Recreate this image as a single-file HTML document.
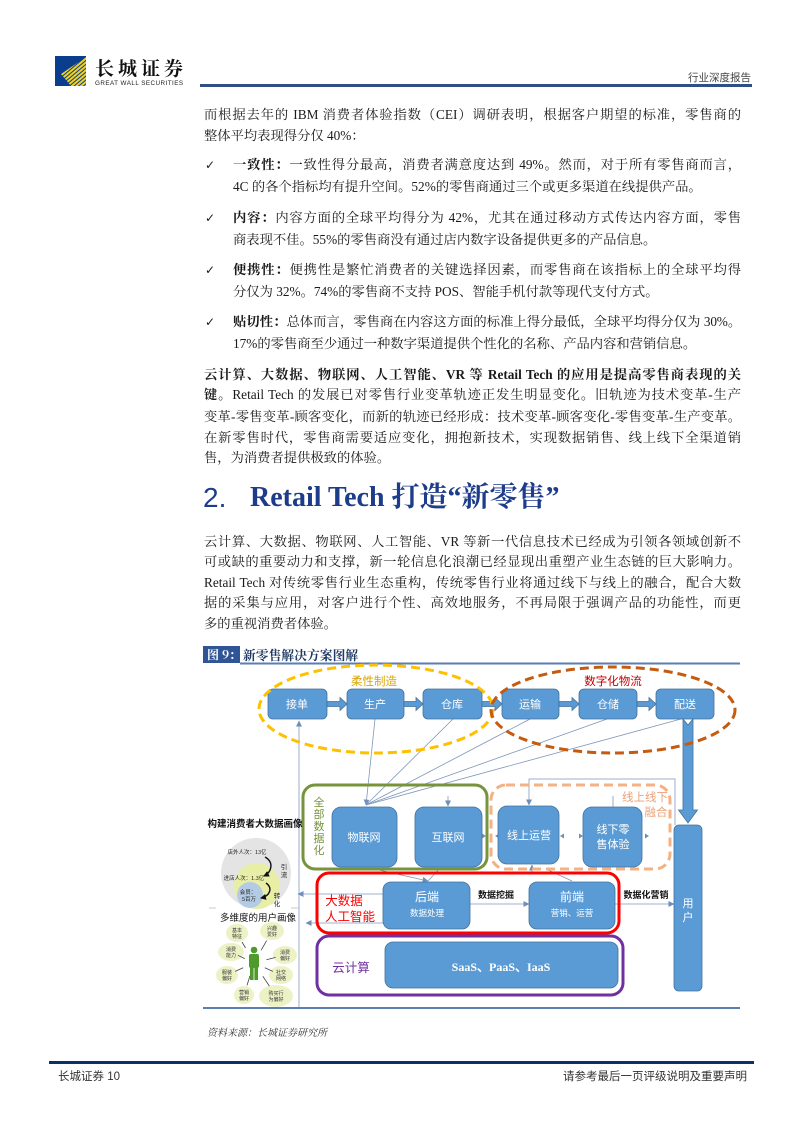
<!DOCTYPE html>
<html><head><meta charset="utf-8">
<style>
html,body{margin:0;padding:0;background:#fff;}
#pg{position:relative;width:794px;height:1123px;overflow:hidden;background:#fff;}
.t{position:absolute;left:204px;width:537px;font-family:"Liberation Serif","Noto Serif CJK SC",serif;font-size:13.3px;line-height:20px;color:#1a1a1a;}
.j{text-align:justify;text-align-last:justify;}
.b{font-weight:bold;}
.ind{left:233px;width:508px;}
.ck{position:absolute;left:205px;font-family:"DejaVu Sans",sans-serif;font-size:12px;line-height:20px;color:#1a1a1a;}
.h{position:absolute;top:480px;font-family:"Liberation Serif","Noto Serif CJK SC",serif;font-size:28px;line-height:36px;color:#1e3c8c;font-weight:bold;white-space:nowrap;}
</style></head>
<body><div id="pg">

<!-- header -->
<svg width="794" height="1123" style="position:absolute;left:0;top:0">
<defs>
<pattern id="st" width="3" height="3" patternUnits="userSpaceOnUse" patternTransform="rotate(-40)">
<rect width="3" height="2" fill="#f2d21a"/>
</pattern>
</defs>
<rect x="55" y="56" width="31" height="30" fill="#0b3d8e"/>
<polygon points="86,57 86,86 71,86 61,74" fill="url(#st)"/>
<text x="95" y="75" font-family="Noto Serif CJK SC, serif" font-weight="bold" font-size="19" letter-spacing="4" fill="#111">长城证券</text>
<text x="95" y="85" font-family="Liberation Sans, sans-serif" font-size="6.3" letter-spacing="0.45" fill="#222">GREAT WALL SECURITIES</text>
<rect x="200" y="84" width="552" height="3" fill="#2f4f86"/>
<text x="751" y="81" text-anchor="end" font-family="Noto Sans CJK SC, sans-serif" font-size="10.5" fill="#444">行业深度报告</text>

<!-- footer -->
<text x="207" y="1036" font-family="Noto Serif CJK SC, serif" font-style="italic" font-size="10" fill="#333">资料来源：长城证券研究所</text>
<rect x="49" y="1061" width="705" height="3" fill="#0d2f6e"/>
<text x="58" y="1080" font-family="Liberation Sans, Noto Sans CJK SC, sans-serif" font-size="11.5" fill="#333">长城证券 10</text>
<text x="747" y="1080" text-anchor="end" font-family="Noto Sans CJK SC, sans-serif" font-size="11.5" fill="#333">请参考最后一页评级说明及重要声明</text>
</svg>

<!-- body text -->
<div class="t j" style="top:105px">而根据去年的 IBM 消费者体验指数（CEI）调研表明，根据客户期望的标准，零售商的</div>
<div class="t" style="top:126px">整体平均表现得分仅 40%：</div>

<div class="ck" style="top:155px">✓</div>
<div class="t ind j" style="top:155px"><span class="b">一致性：</span>一致性得分最高，消费者满意度达到 49%。然而，对于所有零售商而言，</div>
<div class="t ind" style="top:177px">4C 的各个指标均有提升空间。52%的零售商通过三个或更多渠道在线提供产品。</div>

<div class="ck" style="top:208px">✓</div>
<div class="t ind j" style="top:208px"><span class="b">内容：</span>内容方面的全球平均得分为 42%，尤其在通过移动方式传达内容方面，零售</div>
<div class="t ind" style="top:230px">商表现不佳。55%的零售商没有通过店内数字设备提供更多的产品信息。</div>

<div class="ck" style="top:260px">✓</div>
<div class="t ind j" style="top:260px"><span class="b">便携性：</span>便携性是繁忙消费者的关键选择因素，而零售商在该指标上的全球平均得</div>
<div class="t ind" style="top:282px">分仅为 32%。74%的零售商不支持 POS、智能手机付款等现代支付方式。</div>

<div class="ck" style="top:312px">✓</div>
<div class="t ind j" style="top:312px;letter-spacing:-0.2px"><span class="b">贴切性：</span>总体而言，零售商在内容这方面的标准上得分最低，全球平均得分仅为 30%。</div>
<div class="t ind" style="top:334px">17%的零售商至少通过一种数字渠道提供个性化的名称、产品内容和营销信息。</div>

<div class="t j b" style="top:365px">云计算、大数据、物联网、人工智能、VR 等 Retail Tech 的应用是提高零售商表现的关</div>
<div class="t j" style="top:385px"><span class="b">键。</span>Retail Tech 的发展已对零售行业变革轨迹正发生明显变化。旧轨迹为技术变革-生产</div>
<div class="t j" style="top:407px;letter-spacing:-0.1px">变革-零售变革-顾客变化，而新的轨迹已经形成：技术变革-顾客变化-零售变革-生产变革。</div>
<div class="t j" style="top:428px">在新零售时代，零售商需要适应变化，拥抱新技术，实现数据销售、线上线下全渠道销</div>
<div class="t" style="top:448px">售，为消费者提供极致的体验。</div>

<div class="h" style="left:203px;font-family:'Liberation Sans',sans-serif;font-weight:normal">2.</div>
<div class="h" style="left:250px">Retail Tech 打造“新零售”</div>

<div class="t j" style="top:532px">云计算、大数据、物联网、人工智能、VR 等新一代信息技术已经成为引领各领域创新不</div>
<div class="t j" style="top:552px">可或缺的重要动力和支撑，新一轮信息化浪潮已经显现出重塑产业生态链的巨大影响力。</div>
<div class="t j" style="top:573px">Retail Tech 对传统零售行业生态重构，传统零售行业将通过线下与线上的融合，配合大数</div>
<div class="t j" style="top:593px">据的采集与应用，对客户进行个性、高效地服务，不再局限于强调产品的功能性，而更</div>
<div class="t" style="top:614px">多的重视消费者体验。</div>

<!-- diagram -->
<svg width="794" height="1123" style="position:absolute;left:0;top:0" font-family="Liberation Sans, Noto Sans CJK SC, sans-serif">
<defs>
<marker id="ah" markerWidth="6" markerHeight="6" refX="5.5" refY="3" orient="auto" markerUnits="userSpaceOnUse"><path d="M0,0 L6,3 L0,6 z" fill="#6f8fb8"/></marker>
<marker id="bk" markerWidth="6" markerHeight="6" refX="5" refY="3" orient="auto" markerUnits="userSpaceOnUse"><path d="M0,0 L6,3 L0,6 z" fill="#111"/></marker>
</defs>

<!-- caption -->
<rect x="203" y="646" width="37" height="17" fill="#2f5597"/>
<text x="207" y="659" font-family="Noto Serif CJK SC, serif" font-weight="bold" font-size="12" fill="#fff">图 9：</text>
<text x="243" y="660" font-family="Noto Serif CJK SC, serif" font-weight="bold" font-size="12.8" fill="#1f3864">新零售解决方案图解</text>
<line x1="240" y1="663.5" x2="740" y2="663.5" stroke="#5b7fb0" stroke-width="2"/>

<!-- thin connectors -->
<g stroke="#7f98bb" stroke-width="0.8" fill="none">
<line x1="375" y1="719" x2="366" y2="805" marker-end="url(#ah)"/>
<line x1="453" y1="719" x2="366" y2="805"/>
<line x1="530" y1="719" x2="366" y2="805"/>
<line x1="607" y1="719" x2="366" y2="805"/>
<line x1="681" y1="719" x2="366" y2="805"/>
<line x1="448" y1="796" x2="448" y2="806" marker-end="url(#ah)"/>
<path d="M675,825 V779 H529 V805" marker-end="url(#ah)"/>
<line x1="613" y1="796" x2="613" y2="807"/>
<line x1="370" y1="868" x2="428" y2="881" marker-end="url(#ah)"/>
<line x1="440" y1="868" x2="428" y2="881"/>
<line x1="546" y1="869" x2="572" y2="881"/>
<line x1="532" y1="872" x2="532" y2="865" marker-end="url(#ah)"/>
<path d="M299,1007 V721" marker-end="url(#ah)"/>
<line x1="383" y1="894" x2="298" y2="894" marker-end="url(#ah)"/>
<line x1="383" y1="923" x2="306" y2="923" marker-end="url(#ah)"/>
<line x1="470" y1="904" x2="529" y2="904" marker-end="url(#ah)"/>
<line x1="615" y1="904" x2="674" y2="904" marker-end="url(#ah)"/>
</g>
<g fill="#6f8fb8">
<path d="M560,836 l4,-2.5 v5z"/><path d="M583,836 l-4,-2.5 v5z"/>
<path d="M649,836 l-4,-2.5 v5z"/><path d="M486,836 l-4,-2.5 v5z"/>
<path d="M495,836 l4,-2.5 v5z"/>
</g>

<!-- top process boxes -->
<g fill="#5b9bd5" stroke="#41719c" stroke-width="0.8">
<rect x="268" y="689" width="59" height="30" rx="5"/>
<rect x="347" y="689" width="57" height="30" rx="5"/>
<rect x="423" y="689" width="59" height="30" rx="5"/>
<rect x="502" y="689" width="57" height="30" rx="5"/>
<rect x="579" y="689" width="58" height="30" rx="5"/>
<rect x="656" y="689" width="58" height="30" rx="5"/>
<!-- block arrows -->
<path d="M327,701.5 H340 V697.5 L347,704 L340,710.5 V706.5 H327 Z"/>
<path d="M404,701.5 H416 V697.5 L423,704 L416,710.5 V706.5 H404 Z"/>
<path d="M482,701.5 H495 V697.5 L502,704 L495,710.5 V706.5 H482 Z"/>
<path d="M559,701.5 H572 V697.5 L579,704 L572,710.5 V706.5 H559 Z"/>
<path d="M637,701.5 H649 V697.5 L656,704 L649,710.5 V706.5 H637 Z"/>
<!-- down arrow -->
<path d="M683,719 L688,725 L693,719 V810 H697.5 L688,823 L678.5,810 H683 Z"/>
<!-- middle boxes -->
<rect x="332" y="807" width="65" height="60" rx="9"/>
<rect x="415" y="807" width="67" height="60" rx="9"/>
<rect x="498" y="806" width="61" height="58" rx="9"/>
<rect x="583" y="807" width="59" height="60" rx="9"/>
<rect x="674" y="825" width="28" height="166" rx="5"/>
<rect x="383" y="882" width="87" height="47" rx="8"/>
<rect x="529" y="882" width="86" height="47" rx="8"/>
<rect x="385" y="942" width="233" height="46" rx="8"/>
</g>

<g fill="#fff" font-family="Noto Sans CJK SC, sans-serif" font-size="11" text-anchor="middle">
<text x="297" y="708">接单</text>
<text x="375" y="708">生产</text>
<text x="452" y="708">仓库</text>
<text x="530" y="708">运输</text>
<text x="608" y="708">仓储</text>
<text x="685" y="708">配送</text>
<text x="364" y="841">物联网</text>
<text x="448" y="841">互联网</text>
<text x="529" y="839">线上运营</text>
<text x="613" y="833">线下零</text>
<text x="613" y="848">售体验</text>
<text x="688" y="907">用</text>
<text x="688" y="921">户</text>
<text x="427" y="901" font-size="12">后端</text>
<text x="427" y="916" font-size="8.5">数据处理</text>
<text x="572" y="901" font-size="12">前端</text>
<text x="572" y="916" font-size="8.5">营销、运营</text>
<text x="501" y="971" font-family="Liberation Serif, serif" font-weight="bold" font-size="12">SaaS、PaaS、IaaS</text>
</g>

<!-- group outlines -->
<ellipse cx="376" cy="709" rx="117" ry="44" fill="none" stroke="#ffc000" stroke-width="3" stroke-dasharray="9 5"/>
<ellipse cx="613" cy="710" rx="122" ry="43" fill="none" stroke="#c55a11" stroke-width="3" stroke-dasharray="9 5"/>
<rect x="303" y="785" width="184" height="84" rx="12" fill="none" stroke="#77933c" stroke-width="3"/>
<rect x="491" y="785" width="179" height="84" rx="15" fill="none" stroke="#f4b183" stroke-width="3" stroke-dasharray="9 5"/>
<rect x="317" y="873" width="302" height="60" rx="12" fill="none" stroke="#ff0000" stroke-width="3"/>
<rect x="317" y="936" width="306" height="59" rx="12" fill="none" stroke="#7030a0" stroke-width="3"/>

<g font-family="Noto Sans CJK SC, sans-serif" font-size="11.5" text-anchor="middle">
<text x="374" y="685" fill="#d9a400">柔性制造</text>
<text x="613" y="685" fill="#c00000">数字化物流</text>
<text x="645" y="801" fill="#e8a27a">线上线下</text>
<text x="656" y="816" fill="#e8a27a">融合</text>
<g fill="#77933c" font-size="11">
<text x="319" y="806">全</text><text x="319" y="818">部</text><text x="319" y="830">数</text><text x="319" y="842">据</text><text x="319" y="854">化</text>
</g>
<text x="344" y="905" fill="#ff0000" font-size="12.5">大数据</text>
<text x="350" y="921" fill="#ff0000" font-size="12.5">人工智能</text>
<text x="351" y="972" fill="#7030a0" font-size="12.5">云计算</text>
<text x="496" y="898" fill="#111" font-size="9" font-weight="bold">数据挖掘</text>
<text x="646" y="898" fill="#111" font-size="9" font-weight="bold">数据化营销</text>
</g>

<!-- left persona panel -->
<text x="255" y="827" text-anchor="middle" font-family="Noto Sans CJK SC, sans-serif" font-weight="bold" font-size="9.5" fill="#111">构建消费者大数据画像</text>
<circle cx="256" cy="873" r="35" fill="#e4e4e4"/>
<circle cx="257" cy="886" r="23" fill="#e8eea5"/>
<circle cx="250" cy="895" r="13" fill="#b4cbe4"/>
<g font-family="Noto Sans CJK SC, sans-serif" font-size="5.5" fill="#222" text-anchor="middle">
<text x="247" y="854">店外人次：13亿</text>
<text x="244" y="880">进店人次：1.3亿</text>
<text x="248" y="894">会员：</text>
<text x="249" y="901">5百万</text>
<text x="284" y="869" font-size="6.5">引</text><text x="284" y="877" font-size="6.5">流</text>
<text x="277" y="898" font-size="6.5">转</text><text x="277" y="906" font-size="6.5">化</text>
</g>
<g stroke="#111" stroke-width="1.4" fill="none">
<path d="M265,857 C274,862 272,872 264,876" marker-end="url(#bk)"/>
<path d="M266,883 C273,888 270,896 261,898" marker-end="url(#bk)"/>
</g>
<g stroke="#bbb" stroke-width="0.8">
<line x1="209" y1="908" x2="216" y2="908"/>
<line x1="291" y1="908" x2="299" y2="908"/>
</g>
<text x="258" y="921" text-anchor="middle" font-family="Noto Sans CJK SC, sans-serif" font-size="9.5" fill="#111">多维度的用户画像</text>

<g fill="#edf2c6">
<ellipse cx="237" cy="933" rx="11" ry="9"/>
<ellipse cx="272" cy="931" rx="12" ry="9"/>
<ellipse cx="231" cy="952" rx="13" ry="9"/>
<ellipse cx="285" cy="955" rx="12" ry="9"/>
<ellipse cx="227" cy="975" rx="11" ry="9"/>
<ellipse cx="281" cy="975" rx="12" ry="9"/>
<ellipse cx="244" cy="995" rx="10" ry="9"/>
<ellipse cx="276" cy="996" rx="17" ry="11"/>
</g>
<g font-family="Noto Sans CJK SC, sans-serif" font-size="5" fill="#333" text-anchor="middle">
<text x="237" y="932">基本</text><text x="237" y="938">特征</text>
<text x="272" y="930">兴趣</text><text x="272" y="936">爱好</text>
<text x="231" y="951">消费</text><text x="231" y="957">能力</text>
<text x="285" y="954">消费</text><text x="285" y="960">偏好</text>
<text x="227" y="974">服装</text><text x="227" y="980">偏好</text>
<text x="281" y="974">社交</text><text x="281" y="980">网络</text>
<text x="244" y="994">营销</text><text x="244" y="1000">偏好</text>
<text x="276" y="995">购买行</text><text x="276" y="1001">为偏好</text>
</g>
<g stroke="#444" stroke-width="0.8">
<line x1="245.5" y1="948" x2="242" y2="942"/>
<line x1="261.2" y1="950.2" x2="266.6" y2="940.6"/>
<line x1="244.8" y1="958.6" x2="237.9" y2="955.3"/>
<line x1="266.4" y1="959.8" x2="275.7" y2="957.4"/>
<line x1="243.2" y1="967.8" x2="235.1" y2="971.4"/>
<line x1="264.8" y1="967.8" x2="272.9" y2="971.4"/>
<line x1="250" y1="975.8" x2="247" y2="985.4"/>
<line x1="262.8" y1="976.2" x2="269.4" y2="986.1"/>
</g>
<g fill="#4e9a2a">
<circle cx="254" cy="950" r="3.3"/>
<rect x="249" y="954" width="10" height="14" rx="2"/>
<rect x="250" y="967" width="3.6" height="13"/>
<rect x="254.4" y="967" width="3.6" height="13"/>
</g>

<line x1="203" y1="1008" x2="740" y2="1008" stroke="#5b7fb0" stroke-width="2"/>
</svg>

</div></body></html>
